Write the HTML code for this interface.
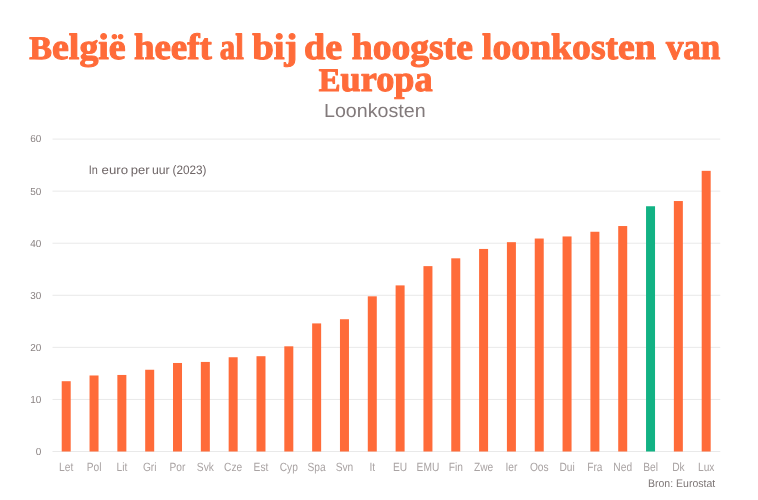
<!DOCTYPE html>
<html lang="nl"><head><meta charset="utf-8"><title>Loonkosten</title>
<style>
html,body{margin:0;padding:0;background:#fff;}
svg{display:block;}
text{text-rendering:geometricPrecision;}
.t{font-family:"Liberation Serif",serif;font-weight:700;fill:#ff6b39;stroke:#ff6b39;stroke-width:1.1px;stroke-linejoin:round;}
.s{font-family:"Liberation Sans",sans-serif;}
</style></head><body>
<svg width="758" height="500" viewBox="0 0 758 500">
<rect width="758" height="500" fill="#fff"/>
<text class="t" y="58.5" font-size="36.5"><tspan x="29.3" textLength="96.4" lengthAdjust="spacingAndGlyphs"><tspan font-size="32.8">B</tspan>elgië</tspan> <tspan x="133.9" textLength="77.9" lengthAdjust="spacingAndGlyphs">heeft</tspan> <tspan x="219.8" textLength="24.0" lengthAdjust="spacingAndGlyphs">al</tspan> <tspan x="252.2" textLength="45.3" lengthAdjust="spacingAndGlyphs">bij</tspan> <tspan x="304.0" textLength="38.0" lengthAdjust="spacingAndGlyphs">de</tspan> <tspan x="351.8" textLength="121.0" lengthAdjust="spacingAndGlyphs">hoogste</tspan> <tspan x="482.0" textLength="173.8" lengthAdjust="spacingAndGlyphs">loonkosten</tspan> <tspan x="665.9" textLength="54.4" lengthAdjust="spacingAndGlyphs">van</tspan></text>
<text class="t" x="318.8" y="91.1" font-size="36.5" textLength="113.8" lengthAdjust="spacingAndGlyphs"><tspan font-size="32.8">E</tspan>uropa</text>
<text class="s" x="324.0" y="116.8" font-size="19" fill="#827a7b" textLength="101.6" lengthAdjust="spacingAndGlyphs">Loonkosten</text>
<g stroke="#e9e9e9" stroke-width="1" shape-rendering="auto">
<line x1="52.5" x2="720.3" y1="451.50" y2="451.50"/>
<line x1="52.5" x2="720.3" y1="399.43" y2="399.43"/>
<line x1="52.5" x2="720.3" y1="347.36" y2="347.36"/>
<line x1="52.5" x2="720.3" y1="295.29" y2="295.29"/>
<line x1="52.5" x2="720.3" y1="243.22" y2="243.22"/>
<line x1="52.5" x2="720.3" y1="191.15" y2="191.15"/>
<line x1="52.5" x2="720.3" y1="139.08" y2="139.08"/>
</g>
<g class="s" font-size="10.2" fill="#8a8383" text-anchor="end">
<text transform="translate(41.4 454.90) scale(.98 1)">0</text>
<text transform="translate(41.4 402.83) scale(.98 1)">10</text>
<text transform="translate(41.4 350.76) scale(.98 1)">20</text>
<text transform="translate(41.4 298.69) scale(.98 1)">30</text>
<text transform="translate(41.4 246.62) scale(.98 1)">40</text>
<text transform="translate(41.4 194.55) scale(.98 1)">50</text>
<text transform="translate(41.4 142.48) scale(.98 1)">60</text>
</g>
<text class="s" y="173.7" font-size="12.3" fill="#6f6667"><tspan x="88.7" textLength="9.1" lengthAdjust="spacingAndGlyphs">In</tspan> <tspan x="101.6" textLength="26.5" lengthAdjust="spacingAndGlyphs">euro</tspan> <tspan x="130.8" textLength="18.8" lengthAdjust="spacingAndGlyphs">per</tspan> <tspan x="151.9" textLength="17.7" lengthAdjust="spacingAndGlyphs">uur</tspan> <tspan x="172.5" textLength="34.0" lengthAdjust="spacingAndGlyphs">(2023)</tspan></text>
<g fill="#ff6b39">
<rect x="61.71" y="381.21" width="9.0" height="70.29"/>
<rect x="89.54" y="375.48" width="9.0" height="76.02"/>
<rect x="117.36" y="374.96" width="9.0" height="76.54"/>
<rect x="145.19" y="369.75" width="9.0" height="81.75"/>
<rect x="173.01" y="362.98" width="9.0" height="88.52"/>
<rect x="200.84" y="361.94" width="9.0" height="89.56"/>
<rect x="228.66" y="357.25" width="9.0" height="94.25"/>
<rect x="256.49" y="356.21" width="9.0" height="95.29"/>
<rect x="284.31" y="346.32" width="9.0" height="105.18"/>
<rect x="312.14" y="323.41" width="9.0" height="128.09"/>
<rect x="339.96" y="319.24" width="9.0" height="132.26"/>
<rect x="367.79" y="296.33" width="9.0" height="155.17"/>
<rect x="395.61" y="285.40" width="9.0" height="166.10"/>
<rect x="423.44" y="266.13" width="9.0" height="185.37"/>
<rect x="451.26" y="258.32" width="9.0" height="193.18"/>
<rect x="479.09" y="248.95" width="9.0" height="202.55"/>
<rect x="506.91" y="242.18" width="9.0" height="209.32"/>
<rect x="534.74" y="238.53" width="9.0" height="212.97"/>
<rect x="562.56" y="236.45" width="9.0" height="215.05"/>
<rect x="590.39" y="231.76" width="9.0" height="219.74"/>
<rect x="618.21" y="226.04" width="9.0" height="225.46"/>
<rect x="646.04" y="206.25" width="9.0" height="245.25" fill="#12b284"/>
<rect x="673.86" y="201.04" width="9.0" height="250.46"/>
<rect x="701.69" y="170.84" width="9.0" height="280.66"/>
</g>
<g class="s" font-size="12" fill="#a9a3a3" text-anchor="middle">
<text transform="translate(66.21 470.9) scale(.85 1)">Let</text>
<text transform="translate(94.04 470.9) scale(.85 1)">Pol</text>
<text transform="translate(121.86 470.9) scale(.85 1)">Lit</text>
<text transform="translate(149.69 470.9) scale(.85 1)">Gri</text>
<text transform="translate(177.51 470.9) scale(.85 1)">Por</text>
<text transform="translate(205.34 470.9) scale(.85 1)">Svk</text>
<text transform="translate(233.16 470.9) scale(.85 1)">Cze</text>
<text transform="translate(260.99 470.9) scale(.85 1)">Est</text>
<text transform="translate(288.81 470.9) scale(.85 1)">Cyp</text>
<text transform="translate(316.64 470.9) scale(.85 1)">Spa</text>
<text transform="translate(344.46 470.9) scale(.85 1)">Svn</text>
<text transform="translate(372.29 470.9) scale(.85 1)">It</text>
<text transform="translate(400.11 470.9) scale(.85 1)">EU</text>
<text transform="translate(427.94 470.9) scale(.85 1)">EMU</text>
<text transform="translate(455.76 470.9) scale(.85 1)">Fin</text>
<text transform="translate(483.59 470.9) scale(.85 1)">Zwe</text>
<text transform="translate(511.41 470.9) scale(.85 1)">Ier</text>
<text transform="translate(539.24 470.9) scale(.85 1)">Oos</text>
<text transform="translate(567.06 470.9) scale(.85 1)">Dui</text>
<text transform="translate(594.89 470.9) scale(.85 1)">Fra</text>
<text transform="translate(622.71 470.9) scale(.85 1)">Ned</text>
<text transform="translate(650.54 470.9) scale(.85 1)">Bel</text>
<text transform="translate(678.36 470.9) scale(.85 1)">Dk</text>
<text transform="translate(706.19 470.9) scale(.85 1)">Lux</text>
</g>
<text class="s" x="648.0" y="487.2" font-size="11" fill="#7d7676" textLength="67.2" lengthAdjust="spacingAndGlyphs">Bron: Eurostat</text>
</svg>
</body></html>
